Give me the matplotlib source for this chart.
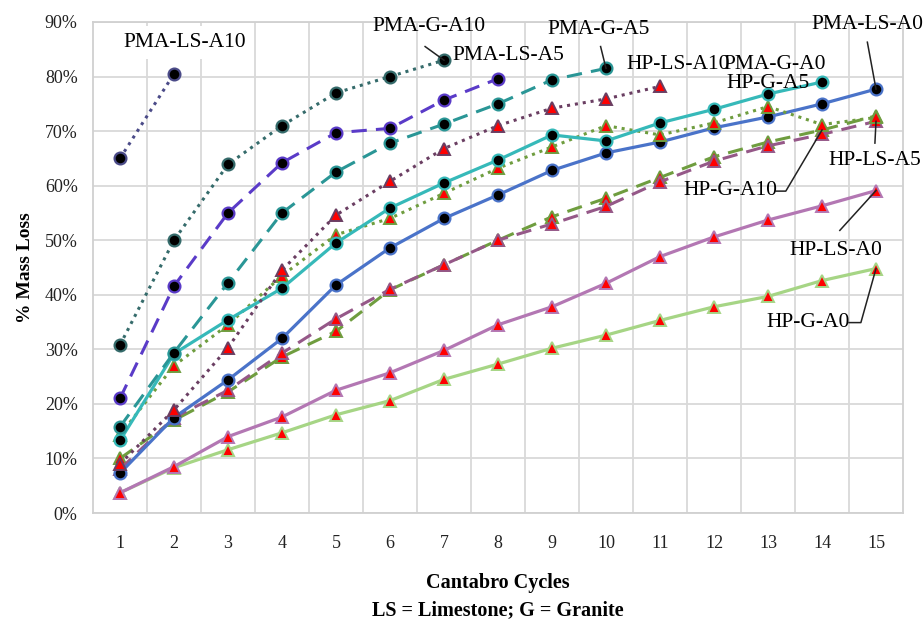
import matplotlib
matplotlib.use("Agg")
import matplotlib.pyplot as plt
from matplotlib.ticker import FixedLocator, PercentFormatter

plt.rcParams['font.family'] = ['Liberation Serif', 'DejaVu Serif']

cycles = list(range(1, 16))

# Cumulative mass loss (%) per Cantabro cycle
pma_ls_a10 = [65.0, 80.5]
pma_g_a10 = [30.8, 50.0, 63.9, 71.0, 77.0, 80.0, 83.0]
pma_ls_a5 = [21.0, 41.6, 55.0, 64.2, 69.7, 70.5, 75.7, 79.6]
pma_g_a5 = [15.8, 29.4, 42.2, 55.0, 62.5, 67.8, 71.3, 75.0, 79.4, 81.5]
hp_ls_a10 = [9.0, 18.9, 30.3, 44.5, 54.6, 60.8, 66.8, 71.0, 74.2, 75.9, 78.2]
pma_g_a0 = [13.3, 29.2, 35.4, 41.2, 49.5, 55.9, 60.5, 64.7, 69.3, 68.2, 71.5, 74.0, 76.8, 79.0]
hp_g_a5 = [14.3, 27.0, 34.5, 43.5, 51.0, 54.0, 58.6, 63.2, 67.1, 71.0, 69.3, 71.5, 74.5, 71.2, 72.5]
pma_ls_a0 = [7.3, 17.5, 24.4, 32.0, 41.8, 48.6, 54.0, 58.3, 62.8, 66.0, 68.0, 70.6, 72.6, 75.0, 77.7]
hp_ls_a5 = [8.0, 17.5, 22.5, 29.3, 35.6, 41.0, 45.5, 50.0, 53.0, 56.2, 60.7, 64.5, 67.3, 69.4, 71.8]
hp_g_a10 = [10.0, 17.0, 22.2, 28.6, 33.3, 40.9, 45.5, 50.0, 54.3, 57.7, 61.5, 65.3, 68.0, 70.2, 72.8]
hp_ls_a0 = [3.7, 8.5, 14.0, 17.6, 22.5, 25.7, 29.8, 34.5, 37.8, 42.1, 47.0, 50.6, 53.7, 56.3, 59.1]
hp_g_a0 = [3.7, 8.3, 11.6, 14.7, 18.0, 20.6, 24.5, 27.3, 30.2, 32.6, 35.3, 37.8, 39.7, 42.6, 44.8]

y_ticks = [0, 10, 20, 30, 40, 50, 60, 70, 80, 90]

DOT = (0, (1, 1.6))
DASH = (0, (5, 3))

# name, values, line colour, line style, marker kind
series = [
    ("HP-G-A0", hp_g_a0, "#a6d585", "-", "tri"),
    ("HP-LS-A0", hp_ls_a0, "#b377b3", "-", "tri"),
    ("HP-G-A10", hp_g_a10, "#6f9d3f", DASH, "tri"),
    ("HP-LS-A5", hp_ls_a5, "#955888", DASH, "tri"),
    ("PMA-LS-A0", pma_ls_a0, "#4a73c9", "-", "dot"),
    ("HP-G-A5", hp_g_a5, "#6f9d3f", DOT, "tri"),
    ("PMA-G-A0", pma_g_a0, "#36b9b9", "-", "dot"),
    ("HP-LS-A10", hp_ls_a10, "#6a3e62", DOT, "tri"),
    ("PMA-G-A5", pma_g_a5, "#2a9696", DASH, "dot"),
    ("PMA-LS-A5", pma_ls_a5, "#5a3bc8", DASH, "dot"),
    ("PMA-G-A10", pma_g_a10, "#356b6b", DOT, "dot"),
    ("PMA-LS-A10", pma_ls_a10, "#4b4b88", DOT, "dot"),
]

fig = plt.figure(figsize=(9.23, 6.21), dpi=100)
ax = fig.add_axes([93 / 923, 1 - 513 / 621, 810 / 923, 491 / 621])

data = {}
for name, vals, color, ls, kind in series:
    xs = cycles[:len(vals)]
    ys = [v / 100 for v in vals]
    data[name] = (xs, ys)
    if kind == "dot":
        mk = dict(marker="o", markersize=8.5, markerfacecolor="black",
                  markeredgecolor=color, markeredgewidth=1.6)
    else:
        mk = dict(marker="^", markersize=9, markerfacecolor="#ff0000",
                  markeredgecolor=color, markeredgewidth=1.4)
    lw = 2.3 if ls == "-" else 2.2
    ax.plot(xs, ys, color=color, linestyle=ls, linewidth=lw, zorder=3, **mk)

ax.set_xlim(0.5, 15.5)
ax.set_ylim(0, 0.9)
ax.xaxis.set_major_locator(FixedLocator(cycles))
ax.xaxis.set_minor_locator(FixedLocator([c + 0.5 for c in cycles[:-1]]))
ax.yaxis.set_major_locator(FixedLocator([t / 100 for t in y_ticks]))
ax.yaxis.set_major_formatter(PercentFormatter(1.0, decimals=0))
ax.grid(True, which="minor", axis="x", color="#d9d9d9", linewidth=1.3, zorder=0)
ax.grid(True, which="major", axis="y", color="#d9d9d9", linewidth=1.3, zorder=0)
ax.tick_params(which="both", length=0)
ax.tick_params(axis="x", labelsize=13, pad=16, colors="#222222")
ax.tick_params(axis="y", labelsize=13, pad=11, colors="#222222")
for s in ax.spines.values():
    s.set_color("#d0d0d0")
    s.set_linewidth(1.3)

ax.set_xlabel("Cantabro Cycles\nLS = Limestone; G = Granite", fontsize=14.5,
              fontweight="bold", labelpad=15, linespacing=1.45)
ax.set_ylabel("% Mass Loss", fontsize=14, fontweight="bold", labelpad=8)

# Series labels: (series, text x, text y, point index, leader start, elbow)
labels = [
    ("PMA-LS-A10", 2.2, 0.862, None, None, None),
    ("PMA-G-A10", 6.73, 0.891, 6, (6.65, 0.855), None),
    ("PMA-LS-A5", 8.2, 0.838, None, None, None),
    ("PMA-G-A5", 9.87, 0.887, 9, (9.9, 0.855), None),
    ("HP-LS-A10", 11.33, 0.822, None, None, None),
    ("PMA-G-A0", 13.13, 0.822, None, None, None),
    ("HP-G-A5", 13.0, 0.787, None, None, None),
    ("PMA-LS-A0", 14.85, 0.896, 14, (14.84, 0.863), None),
    ("HP-LS-A5", 14.98, 0.647, 14, (14.98, 0.678), None),
    ("HP-G-A10", 12.3, 0.592, 13, (13.15, 0.590), (13.33, 0.590)),
    ("HP-LS-A0", 14.26, 0.482, 14, (14.33, 0.518), None),
    ("HP-G-A0", 13.75, 0.350, 14, (14.5, 0.349), (14.72, 0.349)),
]
for name, tx, ty, idx, start, elbow in labels:
    kw = {}
    if name == "PMA-LS-A10":
        kw["bbox"] = dict(facecolor="white", edgecolor="none", pad=5)
    ax.text(tx, ty, name, fontsize=15.5, ha="center", va="center",
            color="black", zorder=6, **kw)
    if idx is not None:
        xs, ys = data[name]
        px, py = xs[idx], ys[idx]
        path_x = [start[0]]
        path_y = [start[1]]
        if elbow is not None:
            path_x.append(elbow[0])
            path_y.append(elbow[1])
        path_x.append(px)
        path_y.append(py)
        ax.plot(path_x, path_y, color="#222222", linewidth=1.1, zorder=5)

fig.savefig("out.png", dpi=100)
